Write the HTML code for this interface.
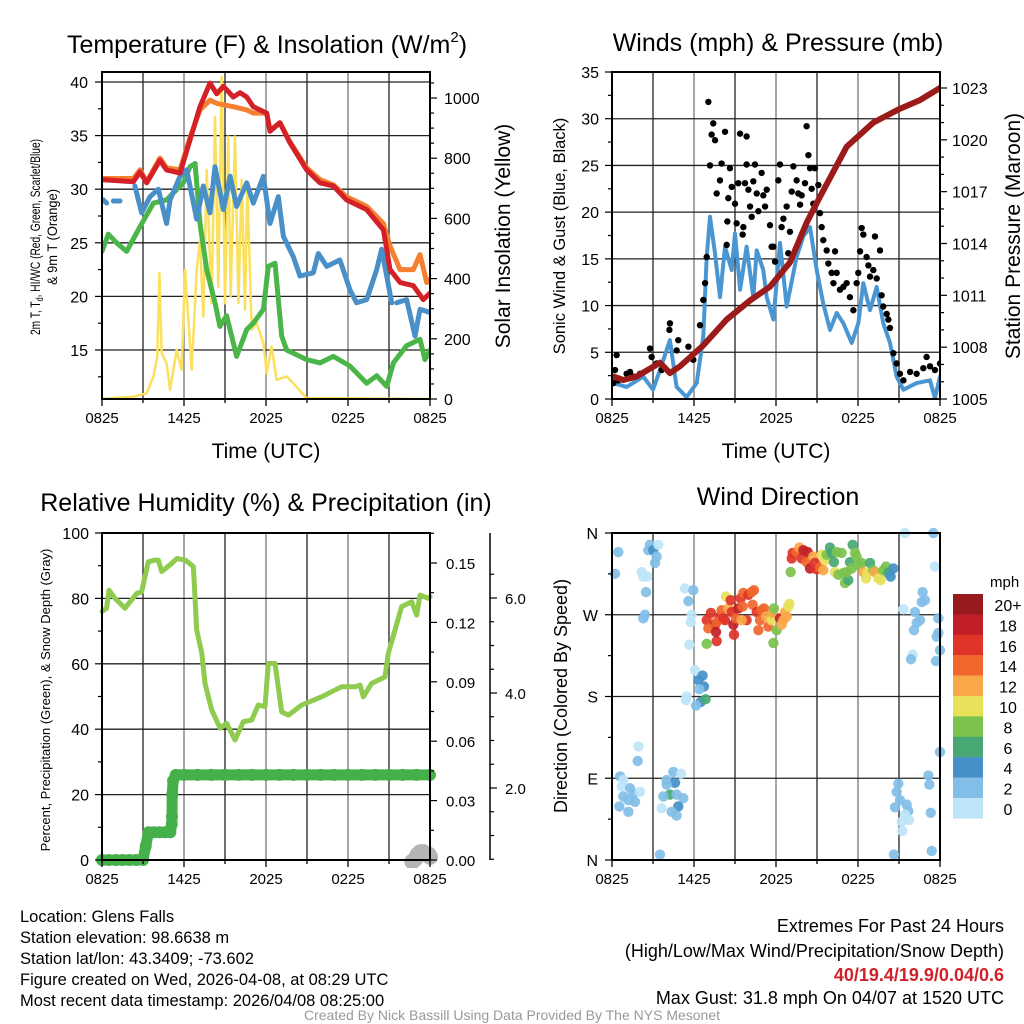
<!DOCTYPE html>
<html><head><meta charset="utf-8">
<style>
html,body{margin:0;padding:0;background:#fff;}
svg{display:block;font-family:"Liberation Sans",Arial,sans-serif;}
</style></head>
<body>
<svg id="chart" width="1024" height="1024" viewBox="0 0 1024 1024" xmlns="http://www.w3.org/2000/svg">
<rect x="0" y="0" width="1024" height="1024" fill="#fff"/>
<!-- Titles -->
<text x="267" y="53" font-size="25" text-anchor="middle">Temperature (F) &amp; Insolation (W/m<tspan font-size="15" dy="-11">2</tspan><tspan dy="11">)</tspan></text>
<text x="778" y="51" font-size="25" text-anchor="middle">Winds (mph) &amp; Pressure (mb)</text>
<text x="266" y="511" font-size="25" text-anchor="middle">Relative Humidity (%) &amp; Precipitation (in)</text>
<text x="778" y="505" font-size="25" text-anchor="middle">Wind Direction</text>
<!-- axis titles -->
<text x="266" y="458" font-size="21" text-anchor="middle">Time (UTC)</text>
<text x="776" y="458" font-size="21" text-anchor="middle">Time (UTC)</text>
<text transform="translate(40,237) rotate(-90)" font-size="14" text-anchor="middle" textLength="196" lengthAdjust="spacingAndGlyphs">2m T, T<tspan font-size="10" dy="3">d</tspan><tspan dy="-3">, HI/WC (Red, Green, Scarlet/Blue)</tspan></text>
<text transform="translate(57,237) rotate(-90)" font-size="14" text-anchor="middle" textLength="96" lengthAdjust="spacingAndGlyphs">&amp; 9m T (Orange)</text>
<text transform="translate(510,236) rotate(-90)" font-size="21" text-anchor="middle">Solar Insolation (Yellow)</text>
<text transform="translate(565,236) rotate(-90)" font-size="16.5" text-anchor="middle">Sonic Wind &amp; Gust (Blue, Black)</text>
<text transform="translate(1020,236) rotate(-90)" font-size="21" text-anchor="middle">Station Pressure (Maroon)</text>
<text transform="translate(50,700) rotate(-90)" font-size="13" text-anchor="middle">Percent, Precipitation (Green), &amp; Snow Depth (Gray)</text>
<text transform="translate(567,696) rotate(-90)" font-size="18" text-anchor="middle">Direction (Colored By Speed)</text>
<!-- footer -->
<g font-size="16.5">
<text x="20" y="922">Location: Glens Falls</text>
<text x="20" y="943">Station elevation: 98.6638 m</text>
<text x="20" y="964">Station lat/lon: 43.3409; -73.602</text>
<text x="20" y="985">Figure created on Wed, 2026-04-08, at 08:29 UTC</text>
<text x="20" y="1006">Most recent data timestamp: 2026/04/08 08:25:00</text>
</g>
<g font-size="18" text-anchor="end">
<text x="1004" y="932">Extremes For Past 24 Hours</text>
<text x="1004" y="957">(High/Low/Max Wind/Precipitation/Snow Depth)</text>
<text x="1004" y="981" font-weight="bold" fill="#d0222a">40/19.4/19.9/0.04/0.6</text>
<text x="1004" y="1004">Max Gust: 31.8 mph On 04/07 at 1520 UTC</text>
</g>
<text x="512" y="1020" font-size="14" fill="#999" text-anchor="middle">Created By Nick Bassill Using Data Provided By The NYS Mesonet</text>
</svg>
<script>
// ---------- DATA ----------
const xTickLabels=['0825','1425','2025','0225','0825'];
const xTickHours=[0,6,12,18,24];
// Panel 1
const tempTicks=[15,20,25,30,35,40];
const solarTicks=[0,200,400,600,800,1000];
const redT=[0,2.29,2.78,3.27,4.24,4.73,5.71,6.44,7.17,7.9,8.39,8.88,9.61,10.1,10.59,11.07,12.05,12.29,13.02,13.76,14.98,15.95,16.93,17.9,19.37,20.59,20.83,21.07,21.81,22.78,23.51,24];
const redV=[30.9,30.7,31.6,30.6,32.7,31.8,31.5,34.6,37.7,39.9,38.9,39.6,38.6,39.0,38.6,37.7,37.1,35.4,36.2,34.3,31.8,30.6,30.3,29.0,28.1,26.2,24.4,22.5,21.3,21.0,19.7,20.3];
const orangeT=[0,2.29,2.78,3.27,4.24,4.73,5.71,6.44,7.17,7.9,8.39,9.61,10.59,11.07,12.05,12.29,13.02,13.76,14.98,15.95,16.93,17.9,19.37,20.59,21.07,21.81,22.78,23.27,23.76,24];
const orangeV=[31.0,31.0,31.8,30.7,32.9,32.0,31.8,34.8,37.4,38.3,38.0,37.7,37.4,37.1,37.1,35.5,36.2,34.4,32.0,30.9,30.4,29.3,28.4,26.8,24.7,22.5,22.5,23.9,21.3,21.6];
const blueT=[0.1,0.34,null,0.83,1.32,null,2.41,2.9,3.51,4.12,4.73,4.98,5.71,6.2,6.93,7.41,7.9,8.27,8.88,9.37,9.85,10.59,11.07,11.81,12.29,12.9,13.27,14.0,14.49,15.46,15.83,16.44,17.41,18.15,18.63,19.37,20.1,20.46,20.83,21.2,null,21.56,22.29,22.9,23.27,24];
const blueV=[29.0,28.7,null,28.9,28.9,null,30.3,27.8,29.3,30.0,26.8,29.0,31.2,31.8,27.2,30.3,27.8,32.1,28.1,31.2,28.4,30.6,28.7,31.2,26.8,29.3,25.6,23.7,21.9,22.2,24.0,22.8,23.4,20.6,19.4,19.7,22.5,24.4,21.9,19.4,null,19.4,19.7,16.3,18.8,18.5];
const greenT=[0,0.46,1.07,1.8,2.78,3.76,4.73,5.95,6.44,6.81,7.17,7.66,8.27,8.63,9.12,9.85,10.59,11.07,11.81,12.17,12.66,13.15,13.51,14.98,15.95,16.93,18.15,19.37,20.1,20.83,21.32,22.29,23.27,23.63,24];
const greenV=[24.2,25.8,25.0,24.2,26.5,28.7,29.0,30.6,32.1,32.4,26.8,22.5,19.4,17.2,18.2,14.4,16.9,17.5,18.8,22.8,23.1,16.3,15.0,14.1,13.8,14.4,13.5,11.9,12.6,11.6,13.8,15.4,16.0,14.1,15.0];
const solarT=[0,2.29,3.27,3.76,4.05,4.2,4.37,4.73,4.98,5.46,5.83,6.07,6.32,6.56,6.93,7.17,7.41,7.66,8.02,8.27,8.51,8.76,9.0,9.24,9.41,9.73,9.98,10.22,10.46,10.63,10.95,11.32,11.81,12.05,12.41,12.78,13.51,14.0,14.98,24];
const solarV=[0,8,19,75,141,418,152,119,30,163,97,429,263,97,429,528,274,761,318,938,373,1070,318,872,340,872,318,728,296,717,230,252,185,86,174,63,75,52,3,0];
// Panel 2
const windTicks=[0,5,10,15,20,25,30,35];
const presTicks=[1005,1008,1011,1014,1017,1020,1023];
const windT=[0.1,1.07,2.29,3.0,3.51,4.24,4.73,5.46,6.2,6.68,6.93,7.17,7.54,7.9,8.27,8.76,9.0,9.37,9.85,10.34,10.59,11.07,11.32,11.81,12.29,12.78,13.51,14.0,14.49,14.98,15.46,15.95,16.44,16.93,17.54,18.02,18.39,18.88,19.37,19.85,20.34,20.83,21.32,22.29,23.27,23.63,24];
const windV=[1.7,1.3,2.4,1.0,3.1,6.3,1.3,0.2,1.7,6.7,15.2,19.5,15.6,10.9,16.3,13.8,17.7,11.7,16.3,10.9,15.9,13.8,10.9,8.5,16.7,9.9,15.2,17.4,18.4,13.8,10.2,7.4,9.2,8.1,6.0,8.1,12.4,9.5,12.0,8.1,6.0,2.4,1.0,1.7,2.0,0.1,2.4];
const gustT=[0.1,0.34,0.22,0.46,1.07,1.32,1.56,2.05,2.78,2.9,3.27,3.63,4.24,4.2,4.85,4.73,5.59,5.95,6.44,6.68,6.81,6.93,7.05,7.17,7.29,7.41,7.54,7.66,7.9,8.02,8.27,8.39,8.44,8.51,8.63,8.76,9.0,9.12,9.24,9.37,9.56,9.61,9.73,9.85,9.85,9.98,10.1,10.22,10.34,10.46,10.59,10.71,10.95,11.07,11.2,11.32,11.56,11.68,11.81,11.93,12.17,12.29,12.41,12.54,12.78,12.9,13.02,13.15,13.27,13.51,13.63,13.76,13.88,14.12,14.24,14.37,14.49,14.61,14.73,14.85,15.1,15.22,15.34,15.46,15.71,15.83,16.07,16.2,16.32,16.44,16.68,16.93,17.17,17.41,17.66,17.9,18.02,18.15,18.27,18.39,18.63,18.76,18.88,19.12,19.24,19.37,19.61,19.73,19.85,20.1,20.22,20.34,20.59,20.83,21.07,21.32,21.81,22.29,22.78,23.02,23.27,23.63,24];
const gustV=[1.7,4.7,3.1,2.0,2.7,2.9,2.4,2.7,5.4,4.5,3.8,3.1,8.1,7.4,6.3,5.2,5.6,4.2,7.9,10.6,12.4,15.2,31.8,25.0,28.3,29.5,27.7,22.0,23.4,25.2,28.6,16.5,19.0,21.5,24.7,22.7,20.9,18.8,23.1,28.4,17.6,18.4,23.1,28.1,25.1,22.4,20.6,19.5,23.3,25.1,22.0,20.1,24.2,21.8,20.6,22.4,18.6,16.3,16.3,14.7,23.4,25.1,18.4,19.3,20.6,15.6,17.9,22.2,24.9,23.4,22.0,20.8,21.8,23.1,29.2,26.1,24.7,22.5,20.9,24.7,22.9,19.9,18.4,17.0,15.9,14.5,13.5,12.4,15.8,13.5,11.7,12.0,12.4,10.9,9.5,12.4,13.5,15.8,18.3,17.6,15.2,14.3,13.1,13.8,17.4,12.9,15.9,11.1,9.9,9.1,8.5,7.6,4.9,3.8,2.7,2.0,2.9,2.7,3.3,4.5,3.5,3.1,3.8];
const presT=[0.1,0.83,1.8,3.51,4.24,4.98,6.68,8.39,10.1,11.56,13.02,14.24,15.22,17.17,19.12,21.07,22.54,24];
const presV=[1006.3,1006.1,1006.3,1007.1,1006.5,1006.9,1008.1,1009.6,1010.7,1011.5,1012.9,1015.2,1016.7,1019.6,1021.0,1021.8,1022.3,1023.0];
// Panel 3
const rhTicks=[0,20,40,60,80,100];
const precipTicks=[0,0.03,0.06,0.09,0.12,0.15];
const precipTickLabels=['0.00','0.03','0.06','0.09','0.12','0.15'];
const snowTicks=[2,4,6];
const snowTickLabels=['2.0','4.0','6.0'];
const rhT=[0,0.34,0.51,0.95,1.68,2.54,2.9,3.39,3.88,4.12,4.37,5.1,5.47,6.1,6.69,6.93,7.3,7.54,8.03,8.64,9.12,9.73,10.34,10.95,11.44,11.93,12.17,12.66,13.15,13.64,14.61,16.07,17.54,18.51,18.88,19.12,19.73,20.71,20.95,21.44,21.93,22.66,23.03,23.27,23.88,24];
const rhV=[76,77,82.5,80,77,81.5,82,91.2,91.7,91.7,88.2,90.7,92.2,91.7,89.7,70.3,63.2,54,45.9,40.3,41.8,36.7,42.3,42.8,47.4,46.9,60.1,60.1,45.3,44.3,47.4,49.9,53,53,53.5,49.9,54,56,63.2,70.3,77.5,79,74.9,81,80,80.5];
const precipT=[0,0.5,1,1.5,2,2.5,3,3.2,3.4,3.8,4.2,4.6,5.0,5.1,5.12,5.14,5.2,5.4,6,7,8,9,10,11,12,13,14,15,16,17,18,19,20,21,22,23,24];
const precipV=[0,0,0,0,0,0,0,0.007,0.014,0.014,0.014,0.014,0.014,0.018,0.022,0.033,0.040,0.043,0.043,0.043,0.043,0.043,0.043,0.043,0.043,0.043,0.043,0.043,0.043,0.043,0.043,0.043,0.043,0.043,0.043,0.043,0.043];
const snowT=[22.7,22.9,23.1,23.3,23.5,23.7,23.9,24];
const snowV=[0.45,0.5,0.6,0.65,0.65,0.6,0.6,0.55];
// Panel 4
const dirTicks=[0,90,180,270,360];
const dirTickLabels=['N','E','S','W','N'];
const speedLevels=['20+','18','16','14','12','10','8','6','4','2','0'];
const speedColors=['#961a1e','#c11f27','#e03429','#f0662b','#f8a848','#e8e15a','#7cc24e','#48a874','#4590c8','#82bee7','#bde5f8'];
const dirT=[0.46,0.22,2.78,2.66,3.02,3.39,3.27,3.15,2.17,2.29,2.59,2.49,2.41,2.29,5.34,5.95,5.59,5.83,5.76,5.66,6.07,6.63,6.32,6.73,6.39,5.46,5.41,6.49,6.15,6.85,1.93,1.88,0.59,0.83,0.71,1.32,1.56,2.05,0.83,1.2,1.68,0.54,1.2,4.0,4.49,5.05,4.61,4.0,4.24,3.76,4.73,5.22,4.85,3.63,4.37,4.73,3.51,
21.44,23.51,23.63,21.32,22.73,22.9,22.66,22.17,22.54,22.29,23.88,22.1,23.88,23.76,24.0,22.0,21.88,23.71,24.0,20.95,20.83,23.15,23.22,21.07,20.71,21.56,21.68,21.44,21.73,21.2,21.24,23.32,20.63,23.39,
6.93,7.24,7.54,7.05,7.66,7.61,7.9,8.02,8.27,8.51,8.34,8.68,8.76,8.88,8.93,9.07,9.24,9.41,9.56,9.61,9.85,9.98,10.22,10.39,10.29,10.59,10.71,10.83,10.95,11.12,11.27,11.44,11.68,11.76,11.85,11.81,12.05,12.29,12.41,12.54,12.66,12.78,12.9,12.98,6.93,7.66,8.15,9.49,
13.15,13.22,13.51,13.71,13.88,14.0,14.24,14.32,14.49,14.73,14.85,14.98,15.22,15.46,13.07,15.34,15.59,15.71,15.95,16.07,16.24,16.44,16.8,16.32,16.56,16.93,17.05,17.29,17.41,17.61,17.78,17.9,18.02,18.27,18.39,18.59,18.68,18.88,19.12,19.24,19.49,19.66,19.85,20.05,20.22,20.39,20.59,17.17,17.54];
const dirV=[339,315,347,341,341,347,334,327,317,312,312,295,270,266,299,297,285,270,262,237,209,203,198,191,188,180,176,174,170,177,125,109,92,88,81,79,73,75,70,66,64,59,53,88,97,95,85,83,72,70,72,68,59,57,53,49,6,
360,360,323,276,295,286,284,273,264,261,266,253,250,246,231,226,221,219,119,84,75,93,83,66,58,61,54,50,44,42,32,52,6,10,
264,272,259,255,241,251,268,275,264,277,290,286,273,259,248,266,277,288,279,294,264,292,295,297,281,273,253,264,275,277,268,257,264,272,277,239,253,266,259,264,273,268,279,282,238,262,266,264,
332,338,339,344,332,341,328,339,321,334,327,320,322,319,317,336,330,336,344,338,328,339,338,317,314,316,305,308,328,347,338,334,325,327,317,310,316,327,319,317,310,308,319,323,316,312,321,317,321];
const dirSpeed=[2,2,2,2,4,0,2,2,0,0,0,2,2,2,0,2,2,0,0,0,0,4,4,4,2,0,0,4,2,6,0,2,2,0,0,2,2,0,2,2,2,2,2,2,2,0,4,2,6,2,2,2,4,0,2,2,2,
0,2,0,0,2,2,2,2,2,2,2,2,2,2,2,0,2,2,2,2,2,2,2,2,2,2,2,0,0,0,0,2,2,2,
16,16,18,14,16,18,16,14,16,12,10,16,16,18,16,14,18,16,14,14,16,16,14,14,14,16,14,14,14,14,12,14,10,12,8,8,8,18,12,12,12,12,10,10,8,14,16,12,
16,16,14,12,16,18,14,18,18,12,16,16,14,12,8,10,10,8,6,6,6,8,8,10,8,8,8,6,6,6,8,8,8,8,12,10,10,6,8,12,10,10,8,8,6,4,4,8,8];

// ---------- HELPERS ----------
const NS='http://www.w3.org/2000/svg';
const svg=document.getElementById('chart');
const TICKFONT=16;
function mk(tag,attrs,parent){const e=document.createElementNS(NS,tag);for(const k in attrs)e.setAttribute(k,attrs[k]);(parent||svg).appendChild(e);return e;}
function lin(d0,d1,r0,r1){return v=>r0+(v-d0)*(r1-r0)/(d1-d0);}
function pathD(ts,vs,sx,sy){let d='',pen=false;for(let i=0;i<ts.length;i++){if(ts[i]===null||vs[i]===null){pen=false;continue;}d+=(pen?'L':'M')+sx(ts[i]).toFixed(1)+','+sy(vs[i]).toFixed(1);pen=true;}return d;}
function colorFor(s){const idx=s>=20?0:10-Math.floor(s/2);return speedColors[Math.max(0,Math.min(10,idx))];}

function frame(name){
  const g=mk('g',{});
  
  
  return g;
}
function vGrid(g,sx,py0,py1,name){
  for(let h=3;h<24;h+=3){
    const l=mk('line',{x1:sx(h),x2:sx(h),y1:py0,y2:py1,stroke:(h%6===0?'#777':'#222'),'stroke-width':1.3},g);
    
    
  }
}
function hGridLine(g,y,px0,px1,name){
  const l=mk('line',{x1:px0,x2:px1,y1:y,y2:y,stroke:'#222','stroke-width':1.3},g);
  
  
}
function box(g,px0,px1,py0,py1,name){
  const r=mk('rect',{x:px0,y:py0,width:px1-px0,height:py1-py0,fill:'none',stroke:'#000','stroke-width':2},g);
  
  
}
function xAxis(g,sx,py1,name){
  for(let h=0;h<=24;h+=3){
    const t=mk('line',{x1:sx(h),x2:sx(h),y1:py1,y2:py1+(h%6===0?7:4),stroke:'#000','stroke-width':1.3},g);
    
    
  }
  for(let i=0;i<xTickLabels.length;i++){
    const tx=mk('text',{x:sx(xTickHours[i]),y:py1+24,'font-size':TICKFONT-1,'text-anchor':'middle'},g);
    tx.textContent=xTickLabels[i];
    
    
  }
}
function tick(g,x,y,len,name){
  const t=mk('line',{x1:x,x2:x+len,y1:y,y2:y,stroke:'#000','stroke-width':1.2},g);
  
  
}
function label(g,x,y,txt,anchor,name,size){
  const t=mk('text',{x:x,y:y+6,'font-size':size||TICKFONT,'text-anchor':anchor},g);
  t.textContent=txt;
  
  
}
function polyline(g,ts,vs,sx,sy,color,w,name){
  const p=mk('path',{d:pathD(ts,vs,sx,sy),fill:'none',stroke:color,'stroke-width':w,'stroke-linejoin':'round','stroke-linecap':'round'},g);
  
  
  return p;
}

// ---------- PANEL 1: Temperature ----------
(function(){
  const X0=102,X1=430,Y0=72,Y1=399;
  const sx=lin(0,24,X0,X1), sy=lin(40,15,82,350), sw=lin(0,1000,399,98);
  const g=frame('temperature-panel');
  const clip=mk('clipPath',{id:'c1'},g);mk('rect',{x:X0,y:Y0,width:X1-X0,height:Y1-Y0},clip);
  vGrid(g,sx,Y0,Y1,'temp');
  tempTicks.forEach(v=>hGridLine(g,sy(v),X0,X1,'temp'));
  const d=mk('g',{'clip-path':'url(#c1)'},g);
  polyline(d,solarT,solarV,sx,sw,'#fbe05c',2.5,'insolation-line');
  polyline(d,greenT,greenV,sx,sy,'#4ab548',5,'dewpoint-line');
  polyline(d,blueT,blueV,sx,sy,'#4a90c8',5,'windchill-line');
  polyline(d,orangeT,orangeV,sx,sy,'#f58030',5,'temp-9m-line');
  polyline(d,redT,redV,sx,sy,'#d42027',5,'temp-2m-line');
  box(g,X0,X1,Y0,Y1,'temp');
  xAxis(g,sx,Y1,'temp');
  for(let v=12.5;v<=40;v+=2.5){tick(g,X0,sy(v),v%5===0?-7:-4,'temp-y-tick');}
  tempTicks.forEach(v=>label(g,X0-14,sy(v),String(v),'end','temp-y-tick-label'));
  for(let v=0;v<=1050;v+=50){tick(g,X1,sw(v),v%200===0?7:4,'solar-y-tick');}
  solarTicks.forEach(v=>label(g,X1+14,sw(v),String(v),'start','solar-y-tick-label'));
})();

// ---------- PANEL 2: Winds ----------
(function(){
  const X0=612,X1=940,Y0=72,Y1=399;
  const sx=lin(0,24,X0,X1), sy=lin(0,35,399,72), sp=lin(1005,1023,399,88);
  const g=frame('winds-panel');
  const clip=mk('clipPath',{id:'c2'},g);mk('rect',{x:X0,y:Y0,width:X1-X0,height:Y1-Y0},clip);
  vGrid(g,sx,Y0,Y1,'wind');
  for(let v=5;v<35;v+=5)hGridLine(g,sy(v),X0,X1,'wind');
  const d=mk('g',{'clip-path':'url(#c2)'},g);
  polyline(d,windT,windV,sx,sy,'#4a96d2',4,'sustained-wind-line');
  for(let i=0;i<gustT.length;i++){
    const c=mk('circle',{cx:sx(gustT[i]),cy:sy(gustV[i]),r:3.2,fill:'#000'},d);
    
    
  }
  polyline(d,presT,presV,sx,sp,'#9b1b1b',6,'pressure-line');
  box(g,X0,X1,Y0,Y1,'wind');
  xAxis(g,sx,Y1,'wind');
  for(let v=0;v<=35;v+=2.5){tick(g,X0,sy(v),v%5===0?-7:-4,'wind-y-tick');}
  windTicks.forEach(v=>label(g,X0-13,sy(v),String(v),'end','wind-y-tick-label'));
  for(let v=1005;v<=1023;v+=1){tick(g,X1,sp(v),(v-1005)%3===0?7:4,'pressure-y-tick');}
  presTicks.forEach(v=>label(g,X1+12,sp(v),String(v),'start','pressure-y-tick-label'));
})();

// ---------- PANEL 3: RH ----------
(function(){
  const X0=102,X1=430,Y0=533,Y1=860;
  const sx=lin(0,24,X0,X1), sy=lin(0,100,860,533), sp=lin(0,0.15,860,563), ss=lin(0,2,883,788);
  const g=frame('humidity-panel');
  const clip=mk('clipPath',{id:'c3'},g);mk('rect',{x:X0-8,y:Y0,width:X1-X0+16,height:Y1-Y0+8},clip);
  vGrid(g,sx,Y0,Y1,'rh');
  for(let v=20;v<100;v+=20)hGridLine(g,sy(v),X0,X1,'rh');
  const d=mk('g',{'clip-path':'url(#c3)'},g);
  for(let i=0;i<snowT.length;i++){
    const c=mk('circle',{cx:sx(snowT[i]),cy:ss(snowV[i]),r:8,fill:'#b4b4b4'},d);
    
    
  }
  polyline(d,rhT,rhV,sx,sy,'#8fcb4f',5,'humidity-line');
  polyline(d,precipT,precipV,sx,sp,'#45b04a',11,'precip-line');
  for(let i=0;i<precipT.length;i++){
    const c=mk('circle',{cx:sx(precipT[i]),cy:sp(precipV[i]),r:6,fill:'#45b04a'},d);
    
    
  }
  box(g,X0,X1,Y0,Y1,'rh');
  xAxis(g,sx,Y1,'rh');
  for(let v=0;v<=100;v+=10){tick(g,X0,sy(v),v%20===0?-7:-4,'rh-y-tick');}
  rhTicks.forEach(v=>label(g,X0-13,sy(v),String(v),'end','rh-y-tick-label'));
  for(let v=0;v<=0.1651;v+=0.015){tick(g,X1,sp(v),Math.round(v*1000)%30===0?7:4,'precip-y-tick');}
  precipTicks.forEach((v,i)=>label(g,X1+16,sp(v),precipTickLabels[i],'start','precip-y-tick-label',15));
  const ax=mk('line',{x1:490,x2:490,y1:Y0,y2:Y1,stroke:'#000','stroke-width':1.5},g);
  
  
  for(let v=0.5;v<=6.5;v+=0.5){tick(g,490,ss(v),v%2===0?7:4,'snow-y-tick');}
  snowTicks.forEach((v,i)=>label(g,505,ss(v),snowTickLabels[i],'start','snow-y-tick-label',15));
})();

// ---------- PANEL 4: Wind direction ----------
(function(){
  const X0=612,X1=940,Y0=533,Y1=860;
  const sx=lin(0,24,X0,X1), sy=lin(0,360,860,533);
  const g=frame('direction-panel');
  const clip=mk('clipPath',{id:'c4'},g);mk('rect',{x:X0-6,y:Y0-6,width:X1-X0+12,height:Y1-Y0+12},clip);
  vGrid(g,sx,Y0,Y1,'dir');
  [90,180,270].forEach(v=>hGridLine(g,sy(v),X0,X1,'dir'));
  const d=mk('g',{'clip-path':'url(#c4)'},g);
  for(let i=0;i<dirT.length;i++){
    const c=mk('circle',{cx:sx(dirT[i]),cy:sy(dirV[i]),r:5.2,fill:colorFor(dirSpeed[i]),'fill-opacity':0.92},d);
    
    
  }
  box(g,X0,X1,Y0,Y1,'dir');
  xAxis(g,sx,Y1,'dir');
  for(let v=0;v<=360;v+=45){tick(g,X0,sy(v),v%90===0?-7:-4,'dir-y-tick');}
  dirTicks.forEach((v,i)=>label(g,X0-14,sy(v),dirTickLabels[i],'end','dir-y-tick-label'));
  // colorbar
  const cb=mk('g',{},svg);
  
  
  const u=mk('text',{x:990,y:587,'font-size':15},cb);
  u.textContent='mph';
  
  
  for(let i=0;i<speedLevels.length;i++){
    const r=mk('rect',{x:953,y:594+i*20.4,width:30,height:20.6,fill:speedColors[i]},cb);
    
    
    const t=mk('text',{x:1008,y:594+i*20.4+17,'font-size':16,'text-anchor':'middle'},cb);
    t.textContent=speedLevels[i];
    
    
  }
})();
</script>
</body></html>
